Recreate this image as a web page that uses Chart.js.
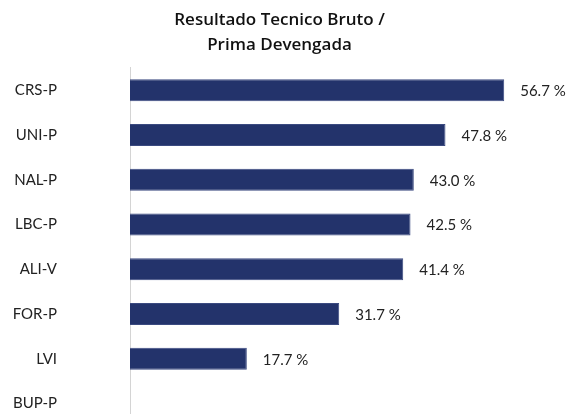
<!DOCTYPE html>
<html>
<head>
<meta charset="utf-8">
<script src="https://cdn.jsdelivr.net/npm/chart.js@4"></script>
<style>
  html, body { margin: 0; padding: 0; background: #fff; overflow: hidden; }
  canvas { display: block; }
</style>
</head>
<body>
<canvas id="resultado" width="571" height="430"></canvas>
<script>
// dados
const companias = ['CRS-P', 'UNI-P', 'NAL-P', 'LBC-P', 'ALI-V', 'FOR-P', 'LVI', 'BUP-P'];
const ratio = [56.7, 47.8, 43.0, 42.5, 41.4, 31.7, 17.7, null];

// etiquetas de valor al final de cada barra
const etiquetas = {
    id: 'etiquetas',
    afterDatasetsDraw(chart) {
        const ctx = chart.ctx;
        const meta = chart.getDatasetMeta(0);
        ctx.save();
        ctx.font = '15px Lato, "Open Sans", sans-serif';
        ctx.fillStyle = '#222';
        ctx.textAlign = 'left';
        ctx.textBaseline = 'middle';
        meta.data.forEach((bar, i) => {
            const v = ratio[i];
            if (v === null) return;
            ctx.fillText(v.toFixed(1) + ' %', bar.x + 16, bar.y + 1);
        });
        ctx.restore();
    }
};

new Chart(document.getElementById('resultado'), {
    type: 'bar',
    data: {
        labels: companias,
        datasets: [{
            data: ratio,
            backgroundColor: '#23336b',
            borderColor: '#3b4a80',
            borderWidth: 1,
            categoryPercentage: 1,
            barPercentage: 0.49
        }]
    },
    options: {
        indexAxis: 'y',
        responsive: false,
        animation: false,
        layout: { padding: { right: 12, bottom: 4 } },
        scales: {
            x: { display: false, min: 0, max: 65 },
            y: {
                afterFit(scale) {
                    scale.width = 130;
                    scale.paddingTop = 0;
                    scale.paddingBottom = 0;
                },
                grid: { display: false, drawTicks: false },
                border: { display: true, color: '#d4d4d4', width: 1 },
                ticks: {
                    padding: 73,
                    color: '#222',
                    font: { family: 'Lato, "Open Sans", sans-serif', size: 15 }
                }
            }
        },
        plugins: {
            legend: { display: false },
            tooltip: { enabled: false },
            title: {
                display: true,
                text: ['Resultado Tecnico Bruto /', 'Prima Devengada'],
                color: '#111',
                font: { family: '"Open Sans", Lato, sans-serif', size: 17, weight: 600, lineHeight: 1.45 },
                padding: { top: 8, bottom: 10.5 }
            }
        }
    },
    plugins: [etiquetas]
});
</script>
</body>
</html>
